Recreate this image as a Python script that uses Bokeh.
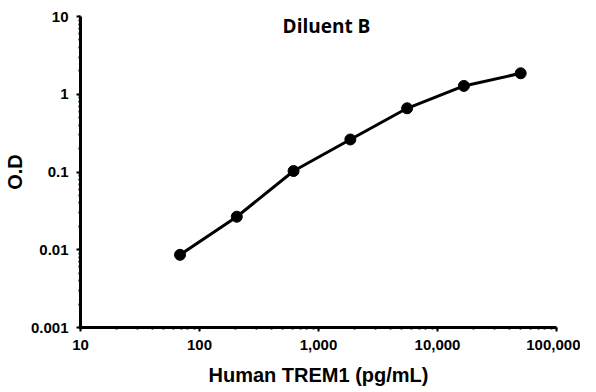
from bokeh.plotting import figure
from bokeh.models import Range1d, LogTicker, CustomJSTickFormatter, Label
from bokeh.embed import file_html
from bokeh.resources import INLINE

conc = [68.6, 205.8, 617.3, 1852, 5556, 16667, 50000]
od = [0.0086, 0.0266, 0.103, 0.262, 0.66, 1.28, 1.86]
title_text = "Diluent B"
x_label = "Human TREM1 (pg/mL)"
y_label = "O.D"

p = figure(width=580, height=388, x_axis_type="log", y_axis_type="log",
           x_range=Range1d(10, 100000), y_range=Range1d(0.001, 10),
           output_backend="svg", toolbar_location=None,
           min_border_left=80, min_border_right=24, min_border_top=16, min_border_bottom=54)
p.outline_line_color = None
p.grid.visible = False
p.background_fill_color = "white"
p.border_fill_color = "white"

for ax in (p.xaxis[0], p.yaxis[0]):
    ax.axis_line_width = 3
    ax.axis_line_color = "black"
    ax.major_tick_line_width = 2
    ax.major_tick_out = 4
    ax.major_tick_in = 0
    ax.minor_tick_line_width = 2
    ax.minor_tick_out = 2
    ax.minor_tick_in = 0
    ax.major_label_text_font = "Liberation Sans"
    ax.major_label_text_font_style = "bold"
    ax.major_label_text_font_size = "15px"
    ax.major_label_text_color = "black"
    ax.axis_label_text_font = "Liberation Sans"
    ax.axis_label_text_font_style = "bold"
    ax.axis_label_text_font_size = "20px"
    ax.axis_label_text_color = "black"

p.xaxis.ticker = LogTicker(num_minor_ticks=10)
p.yaxis.ticker = LogTicker(num_minor_ticks=10)
p.xaxis.formatter = CustomJSTickFormatter(code="return Math.round(tick).toLocaleString('en-US');")
p.yaxis.formatter = CustomJSTickFormatter(code="return String(parseFloat(tick.toPrecision(3)));")
p.xaxis.major_label_standoff = 8
p.yaxis.major_label_standoff = 8
p.xaxis.axis_label = x_label
p.yaxis.axis_label = y_label
p.xaxis.axis_label_standoff = 11
p.yaxis.axis_label_standoff = 2

p.line(conc, od, line_width=3, color="black")
p.scatter(conc, od, size=11, color="black")

p.add_layout(Label(x=1167, y=7.46, text=title_text, text_align="center", text_baseline="middle",
                   text_font="Open Sans", text_font_style="bold", text_font_size="19px",
                   text_color="black"))

open("out.html", "w").write(file_html(p, INLINE))
